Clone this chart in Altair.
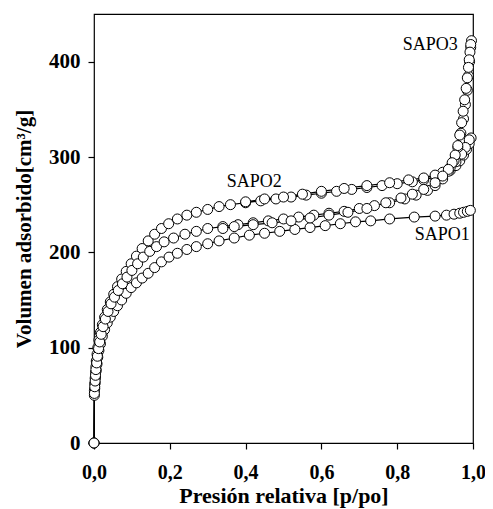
import altair as alt
import pandas as pd

# SAPO1
s1_p = [0, 0.001, 0.002, 0.003, 0.004, 0.006, 0.008, 0.010, 0.013, 0.017, 0.022, 0.028, 0.035, 0.043,
        0.052, 0.062, 0.073, 0.085, 0.098, 0.112, 0.127, 0.143, 0.160, 0.178, 0.198, 0.22, 0.245, 0.27,
        0.30, 0.33, 0.37, 0.41, 0.45, 0.49, 0.53, 0.57, 0.61, 0.65, 0.69, 0.73,
        0.78, 0.845, 0.90, 0.93, 0.95, 0.965, 0.975, 0.985, 0.993]
s1_v = [0, 50, 57, 63, 69, 76, 83, 90, 97, 104, 112, 119, 126, 132,
        138, 144, 150, 157, 163, 168, 173, 178, 184, 190, 195, 199, 203, 206,
        209, 212, 215, 218, 220, 222, 224, 226, 228, 230, 232, 233,
        235, 237, 238, 239, 240, 241, 242, 243, 244]

# SAPO2 adsorption + desorption
s2_p = [0, 0.001, 0.002, 0.003, 0.004, 0.005, 0.006, 0.008, 0.010, 0.013, 0.017, 0.022, 0.028, 0.035,
        0.043, 0.052, 0.062, 0.073, 0.085, 0.098, 0.112, 0.127, 0.143, 0.160, 0.178, 0.197, 0.22, 0.245,
        0.27, 0.30, 0.33, 0.36, 0.40, 0.44, 0.48, 0.52, 0.56, 0.60, 0.64, 0.68, 0.72, 0.76, 0.80, 0.84,
        0.87, 0.90, 0.92, 0.94, 0.955, 0.965, 0.975, 0.983, 0.99, 0.995,
        0.99, 0.98, 0.97, 0.955, 0.94, 0.92, 0.90, 0.87, 0.83, 0.78, 0.72, 0.66, 0.60, 0.55, 0.50, 0.45, 0.40]
s2_v = [0, 55, 62, 68, 74, 80, 86, 93, 100, 108, 116, 124, 132, 140,
        148, 156, 164, 172, 180, 188, 196, 204, 212, 219, 225, 230, 235, 239,
        242, 245, 248, 250, 252, 254, 256, 258, 260, 262, 264, 266, 268, 270, 272, 274,
        276, 279, 282, 286, 291, 296, 302, 308, 314, 320,
        318, 310, 303, 295, 289, 284, 281, 278, 276, 273, 270, 267, 264, 261, 258, 256, 253]

# SAPO3 adsorption + desorption
s3_p = [0, 0.001, 0.002, 0.003, 0.004, 0.005, 0.007, 0.009, 0.012, 0.015, 0.019, 0.024, 0.030, 0.037,
        0.045, 0.054, 0.064, 0.075, 0.087, 0.100, 0.115, 0.130, 0.147, 0.165, 0.185, 0.21, 0.24, 0.27,
        0.30, 0.34, 0.38, 0.42, 0.46, 0.50, 0.54, 0.58, 0.62, 0.66, 0.70, 0.74, 0.78, 0.82, 0.85, 0.88,
        0.90, 0.92, 0.935, 0.95, 0.96, 0.968, 0.975, 0.98, 0.985, 0.988, 0.991, 0.994,
        0.996, 0.994, 0.992, 0.99, 0.988, 0.985, 0.982, 0.978, 0.974, 0.97, 0.965, 0.96, 0.953, 0.945,
        0.935, 0.92, 0.90, 0.87, 0.84, 0.81, 0.77, 0.72, 0.67, 0.62, 0.57, 0.52, 0.47, 0.42, 0.37, 0.34]
s3_v = [0, 52, 59, 65, 71, 77, 84, 91, 99, 106, 114, 122, 130, 138,
        146, 153, 160, 167, 174, 181, 188, 195, 201, 206, 211, 215, 219, 222,
        225, 227, 229, 231, 233, 235, 237, 239, 241, 243, 246, 249, 252, 256, 260, 265,
        270, 277, 285, 296, 310, 325, 340, 355, 370, 385, 400, 415,
        422, 418, 410, 402, 394, 383, 372, 360, 348, 336, 323, 312, 302, 294,
        287, 280, 273, 266, 261, 257, 252, 246, 242, 239, 236, 233, 231, 229, 227, 225]

label_text = ["SAPO1", "SAPO2", "SAPO3"]
label_p = [0.919, 0.423, 0.887]
label_v = [218, 274, 418]

x_ticks = [0.0, 0.2, 0.4, 0.6, 0.8, 1.0]
y_ticks = [0, 100, 200, 300, 400]

rows = []
for name, ps, vs in [("SAPO1", s1_p, s1_v), ("SAPO2", s2_p, s2_v), ("SAPO3", s3_p, s3_v)]:
    for i, (p, v) in enumerate(zip(ps, vs)):
        rows.append({"serie": name, "p": p, "v": v, "orden": i})
df = pd.DataFrame(rows)
labels = pd.DataFrame({"t": label_text, "p": label_p, "v": label_v})

FONT = "Liberation Serif"

x = alt.X("p:Q", scale=alt.Scale(domain=[0, 1], nice=False),
          axis=alt.Axis(values=x_ticks, title="Presión relativa [p/po]", labelFlush=False,
                        labelFontSize=20,
                        labelExpr="replace(format(datum.value, '.1f'), '.', ',')"))
y = alt.Y("v:Q", scale=alt.Scale(domain=[0, 450], nice=False),
          axis=alt.Axis(values=y_ticks, title="Volumen adsorbido[cm³/g]", labelFlush=False))

lines = alt.Chart(df).mark_line(color="black", strokeWidth=1.2).encode(
    x=x, y=y, detail="serie:N", order="orden:Q")
points = alt.Chart(df).mark_point(shape="circle", filled=True, fill="white", stroke="black",
                                  strokeWidth=1, size=100, opacity=1).encode(x=x, y=y)
texts = alt.Chart(labels).mark_text(font=FONT, fontSize=18, color="black").encode(
    x="p:Q", y="v:Q", text="t:N")

chart = alt.layer(lines, points, texts).properties(
    width=379, height=429,
    autosize=alt.AutoSizeParams(type="none"),
    padding={"left": 86, "top": 6, "right": 12, "bottom": 66},
).configure_view(stroke="black", strokeWidth=1.2).configure_axis(
    grid=False, domain=False, ticks=True, tickColor="black", tickSize=6, tickWidth=1.2,
    labelFont=FONT, labelFontSize=21, labelFontWeight="bold", labelColor="black",
    titleFont=FONT, titleFontWeight="bold", titleColor="black",
).configure_axisX(labelPadding=13, titlePadding=3, titleFontSize=22).configure_axisY(
    labelPadding=8, titlePadding=14, titleFontSize=21)

chart.save("out.html", embed_options={"renderer": "svg", "actions": False})
